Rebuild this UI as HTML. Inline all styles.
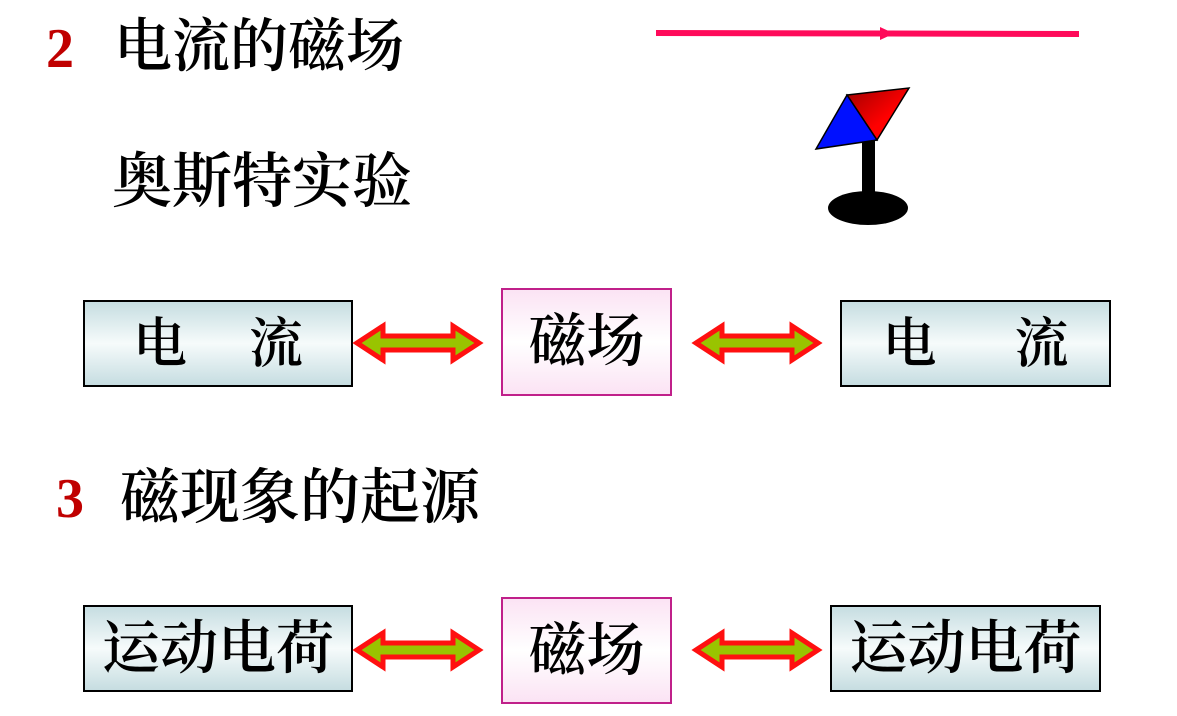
<!DOCTYPE html>
<html><head><meta charset="utf-8"><style>
body{margin:0;width:1177px;height:716px;background:#fff;position:relative;overflow:hidden;font-family:"Liberation Serif","Noto Serif CJK SC",serif;}
.t{position:absolute;white-space:nowrap;line-height:1;color:#000;font-weight:600;}
.num{position:absolute;color:#c00000;font-weight:bold;font-family:"Liberation Serif",serif;line-height:1;}
.box{position:absolute;box-sizing:border-box;border:2px solid #000;background:linear-gradient(#c6dde1,#f6fbfb 50%,#c6dde1);display:flex;align-items:center;justify-content:center;font-size:54px;line-height:1;font-weight:600;}
.pk{border:2px solid #c0208a;background:linear-gradient(#fbe3f4,#fff 50%,#fbe3f4);font-size:58px;}
svg{position:absolute;left:0;top:0;}
</style></head><body>
<div class="num" style="left:46px;top:21px;font-size:56px;">2</div>
<div class="t" style="left:114px;top:18px;font-size:58px;">电流的磁场</div>
<div class="t" style="left:112px;top:152px;font-size:60px;">奥斯特实验</div>
<div class="num" style="left:56px;top:471px;font-size:56px;">3</div>
<div class="t" style="left:120px;top:468px;font-size:60px;">磁现象的起源</div>

<div class="box" style="left:83px;top:300px;width:270px;height:87px;">电<span style="display:inline-block;width:62px"></span>流</div>
<div class="box pk" style="left:501px;top:288px;width:171px;height:108px;">磁场</div>
<div class="box" style="left:840px;top:300px;width:271px;height:87px;">电<span style="display:inline-block;width:78px"></span>流</div>
<div class="box" style="left:83px;top:605px;width:270px;height:87px;font-size:58px;">运动电荷</div>
<div class="box pk" style="left:501px;top:597px;width:171px;height:107px;">磁场</div>
<div class="box" style="left:830px;top:605px;width:271px;height:87px;font-size:58px;">运动电荷</div>

<svg width="1177" height="716">
<defs>
<g id="ar">
<polygon points="0,0 26,-17 26,-7 96,-7 96,-17 122,0 96,17 96,7 26,7 26,17" fill="#99c400" stroke="#ff1010" stroke-width="5" stroke-linejoin="miter"/>
</g>
<linearGradient id="rd" x1="0" y1="0" x2="1" y2="1"><stop offset="0" stop-color="#a00000"/><stop offset="0.6" stop-color="#ff0000"/></linearGradient>
</defs>
<use href="#ar" x="357" y="343"/>
<use href="#ar" x="696" y="343"/>
<use href="#ar" x="357" y="650"/>
<use href="#ar" x="696" y="650"/>
<line x1="656" y1="33" x2="1079" y2="34" stroke="#ff0a5a" stroke-width="6"/>
<polygon points="880,27 894,33.5 880,40" fill="#ff0a5a"/>
<rect x="862" y="140" width="13" height="55" fill="#000"/>
<ellipse cx="868" cy="208" rx="40" ry="17" fill="#000"/>
<polygon points="847,95 909,88 877,140" fill="url(#rd)" stroke="#000" stroke-width="1.5"/>
<polygon points="847,95 877,140 816,149" fill="#0010ff" stroke="#000" stroke-width="1.5"/>
</svg>
</body></html>
